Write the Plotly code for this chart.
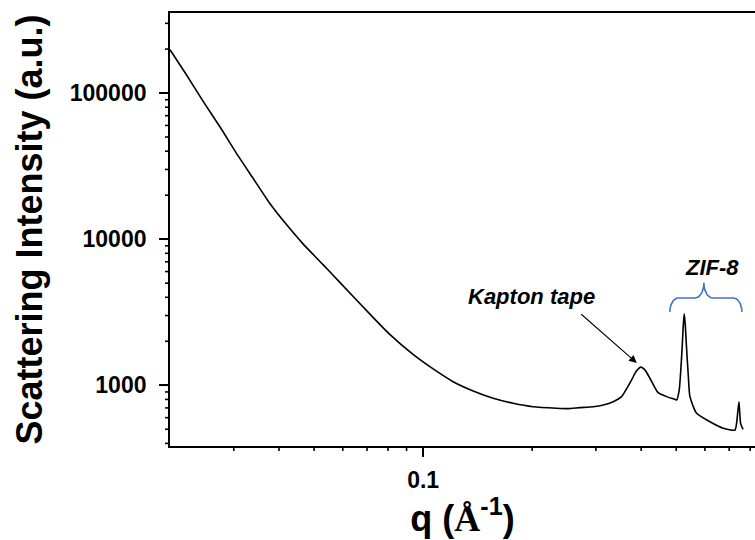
import numpy as np
import plotly.graph_objects as go

# ---- data ----
q = [0.0200, 0.0222, 0.0247, 0.0275, 0.0305, 0.0339, 0.0377, 0.0419, 0.0466,
     0.0530, 0.0589, 0.0712, 0.0809, 0.0938, 0.1066, 0.1210, 0.1375, 0.1561,
     0.1773, 0.2013, 0.2337, 0.2500, 0.2708, 0.2948, 0.3145, 0.3349, 0.3532,
     0.3660, 0.3765, 0.3880, 0.3995, 0.4110, 0.4229, 0.4340, 0.4459, 0.4703,
     0.4956, 0.5012, 0.5095, 0.5150, 0.5193, 0.5230, 0.5260, 0.5295, 0.5336,
     0.5400, 0.5455, 0.5692, 0.6194, 0.6740, 0.7262, 0.7338, 0.7449, 0.7528,
     0.7622, 0.7650]
intensity = [198000, 133500, 87600, 58500, 38800, 26170, 17630, 12630, 9286,
             6668, 5060, 3079, 2228, 1626, 1293, 1058, 914, 815,
             753, 713, 696, 692, 703, 713, 733, 772, 836,
             960, 1087, 1250, 1330, 1260, 1117, 990, 890, 836,
             802, 793, 928, 1300, 1840, 2600, 3080, 2600, 1840,
             1150, 836, 643, 563, 508, 494, 549, 772, 549,
             508, 500]

x_range = [0.0200, 0.825]
y_range = [384, 353000]

x_major = [0.1]
x_major_text = ["<b>0.1</b>"]
x_minor = [0.03, 0.04, 0.05, 0.06, 0.07, 0.08, 0.09,
           0.2, 0.3, 0.4, 0.5, 0.6, 0.7, 0.8]
y_major = [1000, 10000, 100000]
y_major_text = ["<b>1000</b>", "<b>10000</b>", "<b>100000</b>"]
y_minor = [400, 500, 600, 700, 800, 900,
           2000, 3000, 4000, 5000, 6000, 7000, 8000, 9000,
           20000, 30000, 40000, 50000, 60000, 70000, 80000, 90000,
           200000, 300000]

# annotations (data coordinates)
kapton_label = "<b><i>Kapton tape</i></b>"
kapton_text_pos = (0.1996, 4027)
kapton_tip = (0.389, 1422)
zif_label = "<b><i>ZIF-8</i></b>"
zif_text_pos = (0.6273, 6368)
brace_x = (0.480, 0.596, 0.759)      # left, middle, right
brace_y = (3180, 3960, 5020)         # tips, bar, peak

FONT = "Liberation Sans, Arial, sans-serif"
BLUE = "rgb(68,114,196)"
MAJOR_LEN, MINOR_LEN = 9, 5


def brace_points(xl, xm, xr, yt, yb, yp, r=0.024, n=14):
    u0, um, u1 = np.log10([xl, xm, xr])
    vt, vb, vp = np.log10([yt, yb, yp])
    us, vs = [], []
    t = np.linspace(np.pi, np.pi / 2, n)       # left hook
    us += list(u0 + r + r * np.cos(t)); vs += list(vt + (vb - vt) * np.sin(t))
    t = np.linspace(-np.pi / 2, 0, n)          # rise to peak
    us += list(um - r + r * np.cos(t)); vs += list(vp + (vp - vb) * np.sin(t))
    t = np.linspace(np.pi, 3 * np.pi / 2, n)   # fall from peak
    us += list(um + r + r * np.cos(t)); vs += list(vp - (vb - vp) * np.sin(t))
    t = np.linspace(np.pi / 2, 0, n)           # right hook
    us += list(u1 - r + r * np.cos(t)); vs += list(vt + (vb - vt) * np.sin(t))
    return 10 ** np.array(us), 10 ** np.array(vs)


fig = go.Figure()
fig.add_trace(go.Scatter(x=q, y=intensity, mode="lines",
                         line=dict(color="black", width=1.6, shape="spline", smoothing=0.6),
                         showlegend=False, hoverinfo="skip"))

bx, by = brace_points(*brace_x, *brace_y)
fig.add_trace(go.Scatter(x=bx, y=by, mode="lines",
                         line=dict(color=BLUE, width=1.6),
                         showlegend=False, hoverinfo="skip", cliponaxis=False))

fig.add_annotation(x=np.log10(kapton_text_pos[0]), y=np.log10(kapton_text_pos[1]),
                   text=kapton_label, showarrow=False,
                   font=dict(family=FONT, size=22, color="black"))
fig.add_annotation(x=np.log10(zif_text_pos[0]), y=np.log10(zif_text_pos[1]),
                   text=zif_label, showarrow=False,
                   font=dict(family=FONT, size=22, color="black"))
fig.add_annotation(x=np.log10(kapton_tip[0]), y=np.log10(kapton_tip[1]),
                   text="", showarrow=True, ax=-57, ay=-50,
                   arrowhead=2, arrowsize=1.4, arrowwidth=1.1,
                   arrowcolor="black", standoff=0)

# tick marks drawn as axis-anchored shapes (outward, fixed pixel length)
for v in x_major + x_minor:
    L = MAJOR_LEN if v in x_major else MINOR_LEN
    fig.add_shape(type="line", xref="x", x0=v, x1=v,
                  yref="paper", ysizemode="pixel", yanchor=0, y0=0, y1=-L,
                  line=dict(color="black", width=1.6), layer="above")
for v in y_major + y_minor:
    L = MAJOR_LEN if v in y_major else MINOR_LEN
    fig.add_shape(type="line", yref="y", y0=v, y1=v,
                  xref="paper", xsizemode="pixel", xanchor=0, x0=0, x1=-L,
                  line=dict(color="black", width=1.6), layer="above")

fig.update_layout(
    template="none", width=755, height=540,
    margin=dict(l=170, r=0, t=13, b=94),
    paper_bgcolor="white", plot_bgcolor="white",
    xaxis=dict(type="log", range=list(np.log10(x_range)), showgrid=False,
               zeroline=False, showline=True, linecolor="black", linewidth=1.8,
               mirror=True, tickmode="array", tickvals=x_major,
               ticktext=x_major_text, ticks="outside", ticklen=MAJOR_LEN,
               tickwidth=1.6, tickcolor="black",
               tickfont=dict(family=FONT, size=23, color="black"),
               ticklabelstandoff=3,
               title=dict(text="<b>q (<span style=\"font-family:'Times New Roman','Liberation Serif',serif\">Å</span><sup>-1</sup>)</b>",
                          font=dict(family=FONT, size=36, color="black"), standoff=9)),
    yaxis=dict(type="log", range=list(np.log10(y_range)), showgrid=False,
               zeroline=False, showline=True, linecolor="black", linewidth=1.8,
               tickmode="array", tickvals=y_major, ticktext=y_major_text,
               ticks="outside", ticklen=MAJOR_LEN, tickwidth=1.6, tickcolor="black",
               tickfont=dict(family=FONT, size=23, color="black"),
               ticklabelstandoff=8,
               title=dict(text="<b>Scattering Intensity (a.u.)</b>",
                          font=dict(family=FONT, size=36, color="black"), standoff=16)))

fig.write_html("out.html")
